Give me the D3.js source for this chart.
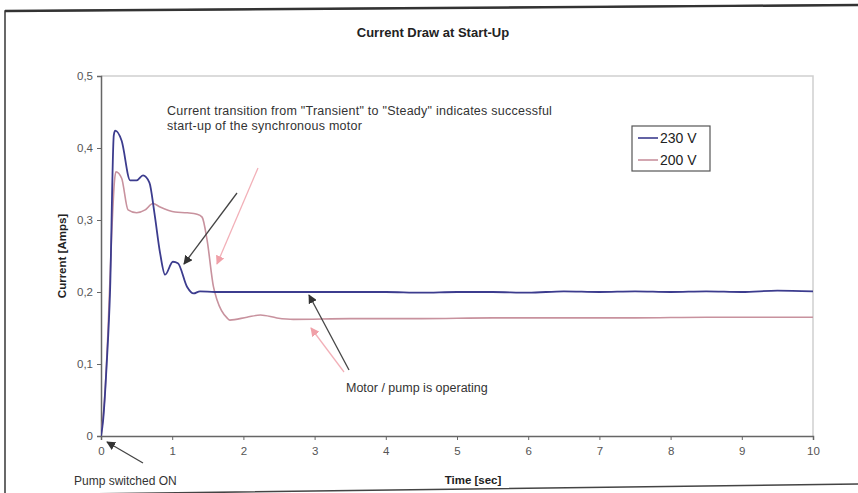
<!DOCTYPE html>
<html>
<head>
<meta charset="utf-8">
<script src="https://cdn.jsdelivr.net/npm/d3@7"></script>
<style>
  html, body { margin: 0; padding: 0; background: #fff; }
  svg { display: block; }
  text { font-family: "Liberation Sans", Arial, sans-serif; }
</style>
</head>
<body>
<svg id="chart" width="858" height="493"></svg>
<script>
// ---- Data ----
const title = "Current Draw at Start-Up";
const xTicks = [0, 1, 2, 3, 4, 5, 6, 7, 8, 9, 10];
const yTicks = [0, 0.1, 0.2, 0.3, 0.4, 0.5];
const seriesNames = ["230 V", "200 V"];

const t230 = [0, 0.03, 0.08, 0.127, 0.18, 0.2, 0.29, 0.41, 0.5, 0.59, 0.68, 0.75, 0.83, 0.9, 1.01, 1.08, 1.21, 1.3, 1.39, 1.6, 2, 3, 4, 4.5, 5, 5.5, 6, 6.5, 7, 7.5, 8, 8.5, 9, 9.5, 10];
const v230 = [0, 0.022, 0.1, 0.2, 0.418, 0.424, 0.41, 0.355, 0.355, 0.362, 0.352, 0.31, 0.254, 0.224, 0.242, 0.24, 0.207, 0.198, 0.201, 0.2, 0.2, 0.2, 0.2, 0.199, 0.2, 0.2, 0.199, 0.201, 0.2, 0.201, 0.2, 0.201, 0.2, 0.202, 0.201];

const t200 = [0, 0.05, 0.1, 0.15, 0.19, 0.21, 0.29, 0.38, 0.5, 0.62, 0.73, 0.83, 1.04, 1.21, 1.35, 1.42, 1.49, 1.58, 1.63, 1.77, 1.81, 2.05, 2.24, 2.47, 2.7, 3.5, 4.5, 5.5, 6.5, 7.5, 8.5, 9.5, 10];
const v200 = [0, 0.05, 0.15, 0.28, 0.355, 0.367, 0.358, 0.314, 0.31, 0.314, 0.323, 0.318, 0.311, 0.31, 0.308, 0.304, 0.272, 0.207, 0.189, 0.164, 0.161, 0.165, 0.168, 0.164, 0.162, 0.163, 0.163, 0.164, 0.164, 0.164, 0.165, 0.165, 0.165];

const annotationMain = ["Current transition from \"Transient\" to \"Steady\" indicates successful", "start-up of the synchronous motor"];
const annotationRun = "Motor / pump is operating";
const annotationOn = "Pump switched ON";

// ---- Layout ----
const svg = d3.select("#chart");
const plot = { left: 101, right: 813, top: 76, bottom: 436 };
const blue = "#3c3c8e", pink = "#c8929e";

const x = d3.scaleLinear().domain([0, 10]).range([plot.left, plot.right]);
const y = d3.scaleLinear().domain([0, 0.5]).range([plot.bottom, plot.top]);

// outer frame (scanned page, slightly skewed)
svg.append("path").attr("d", "M5,11L860,5L860,484L5,495Z")
  .attr("fill", "#fff").attr("stroke", "#444").attr("stroke-width", 1.6);
svg.append("path").attr("d", "M5,11L860,5")
  .attr("fill", "none").attr("stroke", "#333").attr("stroke-width", 2.4);

// plot-area border (top & right light grey)
svg.append("path")
  .attr("d", `M${plot.left},${plot.top}H${plot.right}V${plot.bottom}`)
  .attr("fill", "none").attr("stroke", "#d0d0d0").attr("stroke-width", 1.5);

// title
svg.append("text").attr("x", 433).attr("y", 37).attr("text-anchor", "middle")
  .attr("font-size", 13).attr("font-weight", "bold").attr("fill", "#222").text(title);

// axes
const fmt = d => d === 0 ? "0" : d3.format(".1f")(d).replace(".", ",");
const yAxis = d3.axisLeft(y).tickValues(yTicks).tickSize(4).tickPadding(4).tickFormat(fmt);
const gy = svg.append("g").attr("transform", `translate(${plot.left},0)`).call(yAxis);
const xAxis = d3.axisBottom(x).tickValues(xTicks).tickSize(4).tickPadding(7).tickFormat(d3.format("d"));
const gx = svg.append("g").attr("transform", `translate(0,${plot.bottom})`).call(xAxis);
[gx, gy].forEach(g => {
  g.select(".domain").attr("stroke", "#666").attr("stroke-width", 1.5);
  g.selectAll(".tick line").attr("stroke", "#666");
  g.selectAll(".tick text").attr("font-size", 11.5).attr("fill", "#555")
    .attr("font-family", "'Liberation Sans', Arial, sans-serif");
});

// axis titles
svg.append("text").attr("x", 473).attr("y", 484).attr("text-anchor", "middle")
  .attr("font-size", 11.5).attr("font-weight", "bold").attr("fill", "#222").text("Time [sec]");
svg.append("text").attr("transform", `translate(66,256) rotate(-90)`).attr("text-anchor", "middle")
  .attr("font-size", 11.5).attr("font-weight", "bold").attr("fill", "#222").text("Current [Amps]");

// clip
svg.append("clipPath").attr("id", "clip").append("rect")
  .attr("x", plot.left).attr("y", plot.top - 2).attr("width", plot.right - plot.left).attr("height", plot.bottom - plot.top + 2);

const line = d3.line().x(d => x(d[0])).y(d => y(d[1])).curve(d3.curveMonotoneX);
const d200 = t200.map((t, i) => [t, v200[i]]);
const d230 = t230.map((t, i) => [t, v230[i]]);
svg.append("path").datum(d200).attr("d", line).attr("clip-path", "url(#clip)")
  .attr("fill", "none").attr("stroke", pink).attr("stroke-width", 1.6);
svg.append("path").datum(d230).attr("d", line).attr("clip-path", "url(#clip)")
  .attr("fill", "none").attr("stroke", blue).attr("stroke-width", 1.8);

// arrow markers
const defs = svg.append("defs");
function marker(id, color) {
  defs.append("marker").attr("id", id).attr("viewBox", "0 0 10 10").attr("refX", 9).attr("refY", 5)
    .attr("markerWidth", 9).attr("markerHeight", 9).attr("markerUnits", "userSpaceOnUse").attr("orient", "auto")
    .append("path").attr("d", "M0,0L10,5L0,10Z").attr("fill", color);
}
marker("arrDark", "#333");
marker("arrPink", "#f0a0a8");

function arrow(x1, y1, x2, y2, id, color) {
  svg.append("line").attr("x1", x1).attr("y1", y1).attr("x2", x2).attr("y2", y2)
    .attr("stroke", color).attr("stroke-width", 1.3).attr("marker-end", `url(#${id})`);
}
arrow(237, 193, 184, 264, "arrDark", "#444");
arrow(258, 168, 217, 264, "arrPink", "#f2b0b8");
arrow(349, 370, 309, 295, "arrDark", "#444");
arrow(344, 372, 311, 328, "arrPink", "#f2b0b8");
arrow(143, 463, 107, 442, "arrDark", "#444");

// annotation texts
const ann = svg.append("text").attr("x", 167).attr("y", 115).attr("font-size", 12.5)
  .attr("letter-spacing", 0.25).attr("fill", "#333");
annotationMain.forEach((s, i) => ann.append("tspan").attr("x", 167).attr("dy", i ? 15 : 0).text(s));
svg.append("text").attr("x", 346).attr("y", 392).attr("font-size", 12.5).attr("fill", "#333").text(annotationRun);
svg.append("text").attr("x", 74).attr("y", 485).attr("font-size", 12).attr("fill", "#333").text(annotationOn);

// legend
const lg = svg.append("g");
lg.append("rect").attr("x", 632).attr("y", 126).attr("width", 78).attr("height", 45)
  .attr("fill", "#fff").attr("stroke", "#555").attr("stroke-width", 1.2);
seriesNames.forEach((n, i) => {
  const yy = 138 + i * 22;
  lg.append("line").attr("x1", 638).attr("x2", 658).attr("y1", yy).attr("y2", yy)
    .attr("stroke", i ? pink : blue).attr("stroke-width", 1.6);
  lg.append("text").attr("x", 660).attr("y", yy + 5).attr("font-size", 14).attr("fill", "#222").text(n);
});
</script>
</body>
</html>
